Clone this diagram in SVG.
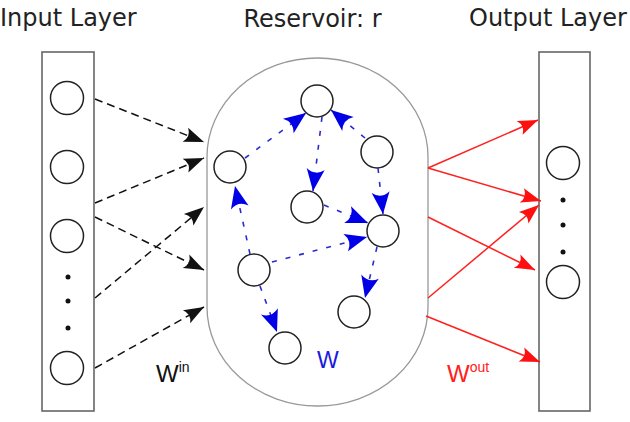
<svg xmlns="http://www.w3.org/2000/svg" width="630" height="422" viewBox="0 0 630 422">
<style>
.title{font-family:"DejaVu Sans",sans-serif;font-size:24px;fill:#222}
.box{fill:#fff;stroke:#666;stroke-width:1.6}
.node{fill:#fff;stroke:#222;stroke-width:1.5}
.dot{fill:#111}
.in{stroke:#111;stroke-width:1.5;stroke-dasharray:8 5;fill:none;marker-end:url(#hk)}
.res{stroke:#2a2ad0;stroke-width:1.6;stroke-dasharray:5 9;fill:none;marker-end:url(#hb)}
.out{stroke:#ff2020;stroke-width:1.5;fill:none;marker-end:url(#hr)}
.lab{font-family:"Liberation Sans",Arial,sans-serif}
</style>
<defs>
<marker id="hk" markerUnits="userSpaceOnUse" viewBox="-22 -9 23 18" refX="0" refY="0" markerWidth="23" markerHeight="18" orient="auto"><path d="M0,0 L-20,-7.5 Q-14,0 -20,7.5 Z" fill="#111"/></marker>
<marker id="hb" markerUnits="userSpaceOnUse" viewBox="-24 -10 25 20" refX="0" refY="0" markerWidth="25" markerHeight="20" orient="auto"><path d="M0,0 L-22,-9 Q-15,0 -22,9 Z" fill="#0000e6"/></marker>
<marker id="hr" markerUnits="userSpaceOnUse" viewBox="-22 -9 23 18" refX="0" refY="0" markerWidth="23" markerHeight="18" orient="auto"><path d="M0,0 L-20,-7.5 Q-14,0 -20,7.5 Z" fill="#ff1010"/></marker>
</defs>
<rect width="630" height="422" fill="#fff"/>
<text class="title" x="0" y="26">Input Layer</text>
<text class="title" x="312.5" y="27" text-anchor="middle">Reservoir: r</text>
<text class="title" x="469" y="26">Output Layer</text>

<g id="input-layer">
<rect class="box" x="42" y="52" width="52" height="359"/>
<circle class="node" cx="67" cy="98" r="16.5"/>
<circle class="node" cx="67" cy="167" r="16.5"/>
<circle class="node" cx="67" cy="236" r="16.5"/>
<circle class="dot" cx="68" cy="277" r="2.5"/>
<circle class="dot" cx="68" cy="301" r="2.5"/>
<circle class="dot" cx="68" cy="328" r="2.5"/>
<circle class="node" cx="67" cy="368" r="16.5"/>
</g>

<g id="reservoir">
<rect x="207" y="58" width="221" height="348" rx="110.5" ry="99" fill="#fff" stroke="#999" stroke-width="1.3"/>
</g>
<g id="r1"><circle class="node" cx="317" cy="101" r="16"/></g>
<g id="r2"><circle class="node" cx="377" cy="152" r="16"/></g>
<g id="r3"><circle class="node" cx="230" cy="167" r="16"/></g>
<g id="r4"><circle class="node" cx="307" cy="207" r="16"/></g>
<g id="r5"><circle class="node" cx="383" cy="231" r="16"/></g>
<g id="r6"><circle class="node" cx="254" cy="270" r="16"/></g>
<g id="r7"><circle class="node" cx="354" cy="312" r="16"/></g>
<g id="r8"><circle class="node" cx="285" cy="348" r="16"/></g>

<g id="output-layer">
<rect class="box" x="539" y="52" width="51" height="359"/>
<circle class="node" cx="563" cy="163" r="16.5"/>
<circle class="dot" cx="563" cy="200" r="2.5"/>
<circle class="dot" cx="563" cy="225" r="2.5"/>
<circle class="dot" cx="563" cy="252" r="2.5"/>
<circle class="node" cx="563" cy="282" r="16.5"/>
</g>

<g id="connectors">
<line class="in" x1="95" y1="99" x2="204" y2="142"/>
<line class="in" x1="95" y1="203" x2="204" y2="158"/>
<line class="in" x1="95" y1="217" x2="204" y2="270"/>
<line class="in" x1="95" y1="298" x2="204" y2="207"/>
<line class="in" x1="95" y1="368" x2="204" y2="307"/>

<line class="res" x1="245" y1="158" x2="306" y2="113"/>
<line class="res" x1="365" y1="138" x2="331" y2="110"/>
<line class="res" x1="322" y1="117" x2="313" y2="191"/>
<line class="res" x1="378" y1="168" x2="383" y2="214"/>
<line class="res" x1="324" y1="205" x2="368" y2="223"/>
<line class="res" x1="272" y1="262" x2="367" y2="237"/>
<line class="res" x1="250" y1="254" x2="235" y2="186"/>
<line class="res" x1="260" y1="286" x2="277" y2="332"/>
<line class="res" x1="377" y1="247" x2="365" y2="298"/>

<line class="out" x1="428" y1="168" x2="538" y2="120"/>
<line class="out" x1="428" y1="168" x2="541" y2="201"/>
<line class="out" x1="428" y1="217" x2="535" y2="270"/>
<line class="out" x1="428" y1="298" x2="539" y2="205"/>
<line class="out" x1="426" y1="316" x2="540" y2="362"/>
</g>

<text class="lab" x="156" y="382" font-size="24" fill="#111">W<tspan font-size="14" dy="-10">in</tspan></text>
<text class="lab" x="317" y="368" font-size="23" fill="#1a1ae0">W</text>
<text class="lab" x="447" y="382" font-size="24" fill="#ff2020">W<tspan font-size="14" dy="-10">out</tspan></text>
</svg>
